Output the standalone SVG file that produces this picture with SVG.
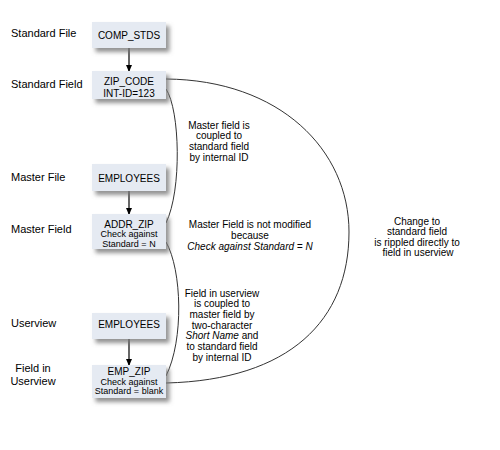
<svg xmlns="http://www.w3.org/2000/svg" width="500" height="450" viewBox="0 0 500 450">
<style>
text{font-family:"Liberation Sans",Arial,sans-serif;fill:#000}
.lbl{font-size:11px}
.bt{font-size:10px;text-anchor:middle}
.bs{font-size:9px;text-anchor:middle}
.note{font-size:10px;text-anchor:middle}
.it{font-style:italic}
.box{fill:#E5EAF2}
.conn{fill:none;stroke:#333;stroke-width:1}
.arr{fill:none;stroke:#000;stroke-width:1.2;marker-end:url(#ah)}
</style>
<defs>
<filter id="sh" x="-20%" y="-30%" width="150%" height="180%">
<feDropShadow dx="3.5" dy="4" stdDeviation="2" flood-color="#777" flood-opacity="0.8"/>
</filter>
<marker id="ah" markerWidth="7" markerHeight="6" refX="6" refY="3" orient="auto" markerUnits="userSpaceOnUse">
<path d="M0,0 L7,3 L0,6 Z" fill="#000"/>
</marker>
</defs>
<rect width="500" height="450" fill="#fff"/>

<g id="labels">
<text class="lbl" x="11" y="37">Standard File</text>
<text class="lbl" x="11" y="88">Standard Field</text>
<text class="lbl" x="11" y="181">Master File</text>
<text class="lbl" x="11" y="233">Master Field</text>
<text class="lbl" x="11" y="327">Userview</text>
<text class="lbl" x="33" y="372" text-anchor="middle">Field in</text>
<text class="lbl" x="33" y="385" text-anchor="middle">Userview</text>
</g>

<g id="connectors">
<line class="arr" x1="129" y1="48" x2="129" y2="71"/>
<line class="arr" x1="129" y1="191" x2="129" y2="214"/>
<line class="arr" x1="129" y1="339" x2="129" y2="365"/>
<path class="conn" d="M166,79 C280,80 349,150 349,232 C349,320 290,380 166,383"/>
<path class="conn" d="M166,89 C180,110 182,190 166,223"/>
<path class="conn" d="M166,242 C182,270 184,340 166,376"/>
</g>

<g id="comp_stds">
<rect class="box" x="92" y="22" width="74" height="26" filter="url(#sh)"/>
<text class="bt" x="129" y="38.5">COMP_STDS</text>
</g>
<g id="zip_code">
<rect class="box" x="92" y="71" width="74" height="28" filter="url(#sh)"/>
<text class="bt" x="129" y="84.6">ZIP_CODE</text>
<text class="bt" x="129" y="96.6">INT-ID=123</text>
</g>
<g id="master_employees">
<rect class="box" x="92" y="164" width="74" height="27" filter="url(#sh)"/>
<text class="bt" x="129" y="181.5">EMPLOYEES</text>
</g>
<g id="addr_zip">
<rect class="box" x="92" y="214" width="74" height="35" filter="url(#sh)"/>
<text class="bt" x="129" y="227.6">ADDR_ZIP</text>
<text class="bs" x="129" y="237.4">Check against</text>
<text class="bs" x="129" y="246.6">Standard = N</text>
</g>
<g id="userview_employees">
<rect class="box" x="92" y="313" width="74" height="26" filter="url(#sh)"/>
<text class="bt" x="129" y="328">EMPLOYEES</text>
</g>
<g id="emp_zip">
<rect class="box" x="92" y="365" width="74" height="33" filter="url(#sh)"/>
<text class="bt" x="129" y="374.8">EMP_ZIP</text>
<text class="bs" x="129" y="384.6">Check against</text>
<text class="bs" x="129" y="394.4">Standard = blank</text>
</g>

<g id="notes">
<text class="note" x="219" y="128.6">Master field is</text>
<text class="note" x="219" y="139.4">coupled to</text>
<text class="note" x="219" y="150.2">standard field</text>
<text class="note" x="219" y="161">by internal ID</text>

<text class="note" x="250" y="227.6">Master Field is not modified</text>
<text class="note" x="250" y="238.6">because</text>
<text class="note it" x="250" y="249.6">Check against Standard = N</text>

<text class="note" x="222" y="296.6">Field in userview</text>
<text class="note" x="222" y="307.3">is coupled to</text>
<text class="note" x="222" y="318">master field by</text>
<text class="note" x="222" y="328.7">two-character</text>
<text class="note" x="222" y="339.4"><tspan class="it">Short Name</tspan> and</text>
<text class="note" x="222" y="350.1">to standard field</text>
<text class="note" x="222" y="360.8">by internal ID</text>

<text class="note" x="417" y="225">Change to</text>
<text class="note" x="417" y="235.3">standard field</text>
<text class="note" x="417" y="245.6">is rippled directly to</text>
<text class="note" x="418" y="255.9">field in userview</text>
</g>
</svg>
